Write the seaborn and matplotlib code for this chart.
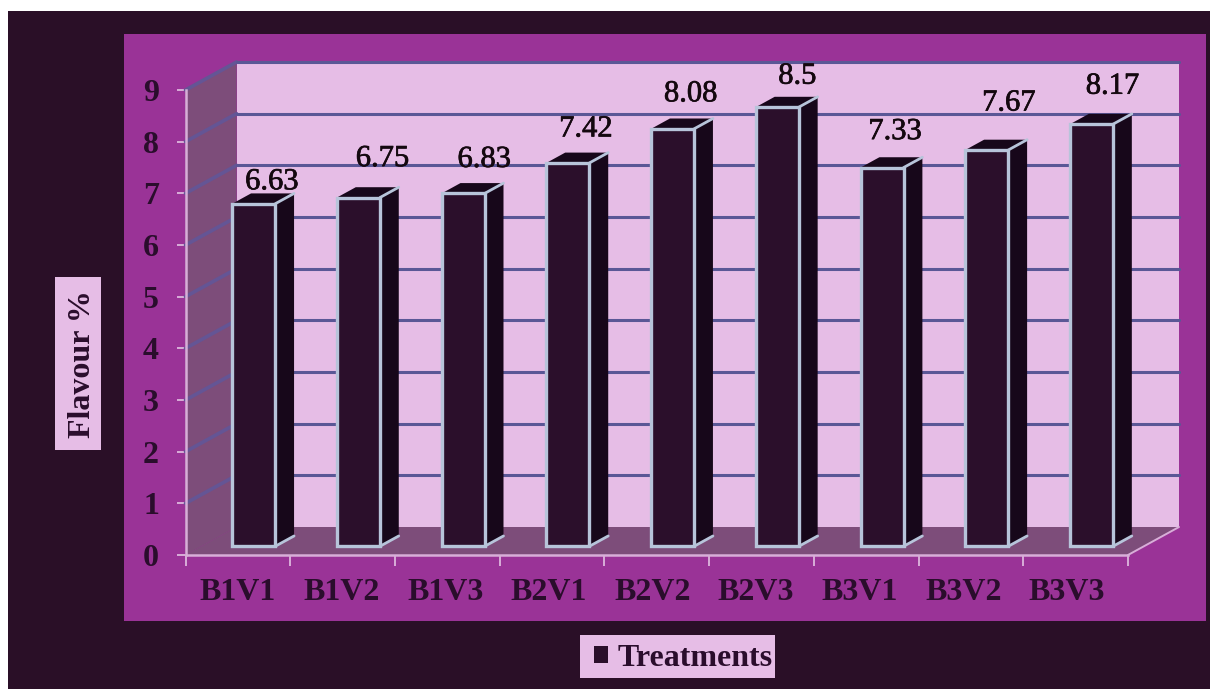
import matplotlib
matplotlib.use("Agg")
import matplotlib.pyplot as plt
import matplotlib.patheffects as pe
from matplotlib.patches import Patch, Rectangle
import pandas as pd
import seaborn as sns

treatments = ["B1V1", "B1V2", "B1V3", "B2V1", "B2V2", "B2V3", "B3V1", "B3V2", "B3V3"]
flavour = [6.63, 6.75, 6.83, 7.42, 8.08, 8.5, 7.33, 7.67, 8.17]
value_labels = ["6.63", "6.75", "6.83", "7.42", "8.08", "8.5", "7.33", "7.67", "8.17"]
y_ticks = list(range(10))
y_title = "Flavour %"
legend_title = "Treatments"

# Hand-placed value label offsets from each bar's front top edge, in pixels
label_dx = [18, 24, 21, 18, 18, 20, 13, 22, 21]
label_dy = [22, 39, 34, 34, 35, 31, 36, 47, 38]

DARK = "#2a0f27"
PLUM = "#9a3397"
WALL = "#e6bde6"
SIDE = "#7d4d7a"
GRID = "#5a5796"
SIDE_GRID = "#645595"
AXIS = "#d8aed8"
BAR = "#2b0f2b"
BAR_SHADE = "#17071a"
EDGE = "#b7c4da"
INK = "#2a0d2c"

W, H = 1210, 689
sns.set_theme(style="white")
plt.rcParams["font.family"] = ["Liberation Serif", "DejaVu Serif"]


def backdrop(x0, y0, x1, y1, color, z):
    """Add a filled box to the figure, given in pixels from the top left."""
    fig.add_artist(Rectangle((x0 / W, 1 - y1 / H), (x1 - x0) / W, (y1 - y0) / H,
                             transform=fig.transFigure, fc=color, ec="none", zorder=z))


fig = plt.figure(figsize=(W / 100, H / 100), dpi=100, facecolor="white")
backdrop(8, 11, W, H, DARK, -10)
backdrop(124, 34, 1206, 621, PLUM, -9)
backdrop(55, 277, 101, 450, WALL, -8)
backdrop(580, 635, 775, 678, WALL, -8)

# The axes rectangle is the front plane of the 3-D box
ax = fig.add_axes([185.5 / W, 1 - 555 / H, (1128 - 185.5) / W, 465 / H])
ax.patch.set_alpha(0)

# Oblique depth vector, in data units
DX = 51 / 104.7
DY = 28 / 51.67
FRONT, BACK = 0.31, 0.68
XL, XR, YB, YT = -0.5, 8.5, 0, 9


def project(x, y, depth):
    return x + depth * DX, y + depth * DY


def face(points, **kw):
    xs, ys = zip(*points)
    ax.fill(xs, ys, clip_on=False, lw=0, **kw)


df = pd.DataFrame({"treatment": treatments, "flavour": flavour})
sns.barplot(data=df, x="treatment", y="flavour", color=BAR, saturation=1, width=43 / 104.7,
            linewidth=2.4, edgecolor=EDGE, zorder=5, ax=ax)
bars = list(ax.containers[0])

# Box walls
face([project(XL, YB, 1), project(XR, YB, 1), project(XR, YT, 1), project(XL, YT, 1)],
     color=WALL, zorder=1)
face([project(XL, YB, 0), project(XL, YB, 1), project(XL, YT, 1), project(XL, YT, 0)],
     color=SIDE, zorder=1)
face([project(XL, YB, 0), project(XR, YB, 0), project(XR, YB, 1), project(XL, YB, 1)],
     color=SIDE, zorder=1)
floor_edge = [project(XR, YB, 0), project(XR, YB, 1)]
ax.plot(*zip(*floor_edge), color=AXIS, lw=1.4, clip_on=False, zorder=2)

# Gridlines run across the back wall and along the side wall
for tick in y_ticks[1:]:
    x0, y0 = project(XL, tick, 0)
    x1, y1 = project(XL, tick, 1)
    x2, y2 = project(XR, tick, 1)
    ax.plot([x0, x1], [y0, y1], color=SIDE_GRID, lw=2.6, clip_on=False, zorder=2)
    ax.plot([x1, x2], [y1, y2], color=GRID, lw=2.2, clip_on=False, zorder=2)

# Slide the seaborn bars to their depth and add the side and top faces
for bar, value, text, dx, dy in zip(bars, flavour, value_labels, label_dx, label_dy):
    left = bar.get_x()
    right = left + bar.get_width()
    bar.set_x(left + FRONT * DX)
    bar.set_y(FRONT * DY)
    bar.set_clip_on(False)
    side = [project(right, 0, FRONT), project(right, 0, BACK),
            project(right, value, BACK), project(right, value, FRONT)]
    top = [project(left, value, FRONT), project(right, value, FRONT),
           project(right, value, BACK), project(left, value, BACK)]
    face(side, color=BAR_SHADE, zorder=4)
    face(top, color=BAR_SHADE, zorder=4)
    for a, b in ((side[0], side[1]), (side[3], side[2])):
        ax.plot([a[0], b[0]], [a[1], b[1]], color=EDGE, lw=2, clip_on=False, zorder=6,
                solid_capstyle="round")
    cx, cy = project(left + bar.get_width() / 2, value, FRONT)
    ax.annotate(text, (cx, cy), xytext=(dx * 0.72, dy * 0.72), textcoords="offset points",
                ha="center", va="center", fontsize=22, color="#14080f", zorder=8,
                annotation_clip=False,
                path_effects=[pe.withStroke(linewidth=0.5, foreground="#14080f")])

ax.set_xlim(XL, XR)
ax.set_ylim(YB, YT)
ax.set_xlabel("")
sns.despine(ax=ax)
for name in ("left", "bottom"):
    ax.spines[name].set_color(AXIS)
    ax.spines[name].set_linewidth(1.8)
    ax.spines[name].set_zorder(3)

ax.set_yticks(y_ticks)
ax.set_yticklabels([str(t) for t in y_ticks])
ax.tick_params(axis="y", left=True, length=6.5, width=1.4, color=AXIS, pad=12.6,
               labelsize=23, labelcolor=INK)
for label in ax.get_yticklabels():
    label.set_fontweight("bold")

# Major x ticks mark the category boundaries, labels sit on invisible minor ticks
ax.set_xticks([i - 0.5 for i in range(len(treatments) + 1)])
ax.set_xticklabels([])
ax.tick_params(axis="x", which="major", bottom=True, length=8, width=1.4, color=AXIS)
LABEL_STEP = 103.6 / 104.7
LABEL_START = (238 - 185.5) / 104.7 - 0.5
ax.set_xticks([LABEL_START + i * LABEL_STEP for i in range(len(treatments))], minor=True)
ax.set_xticklabels(treatments, minor=True, fontsize=23, fontweight="bold", color=INK)
ax.tick_params(axis="x", which="minor", bottom=False, pad=12.7)

ax.set_ylabel(y_title, fontsize=23, fontweight="bold", color=INK, labelpad=0, va="center")
ax.yaxis.set_label_coords((83 - 185.5) / 942.5, (555 - 364) / 465)

legend = fig.legend(handles=[Patch(fc=BAR, ec="none", label=legend_title)],
                    loc="center left", bbox_to_anchor=(594 / W, 1 - 658 / H), frameon=False,
                    handlelength=0.44, handleheight=0.44, handletextpad=0.31,
                    borderpad=0, borderaxespad=0, fontsize=23)
legend.get_texts()[0].set_fontweight("bold")
legend.get_texts()[0].set_color(INK)

fig.savefig("out.png", dpi=100, facecolor="white")
